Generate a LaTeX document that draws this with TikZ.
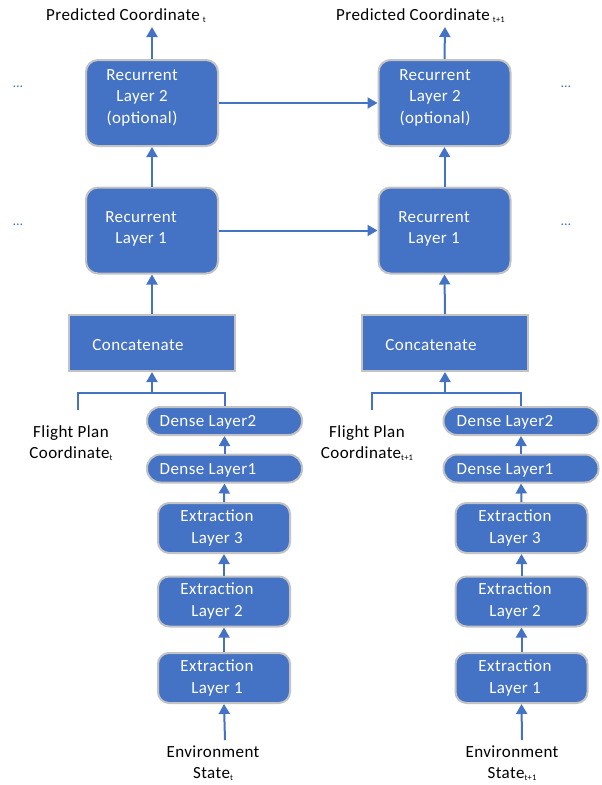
\documentclass[tikz,border=0pt]{standalone}
\usepackage{fontspec}
\setmainfont{Carlito}[LetterSpace=2.5]
\usetikzlibrary{arrows.meta,calc}
\definecolor{obl}{HTML}{4472C4}
\definecolor{bgray}{HTML}{C3C3C3}
\newcommand{\sbx}[1]{\raisebox{-2.5pt}{\fontsize{8.5}{9}\selectfont #1}}
\begin{document}
\begin{tikzpicture}[x=1pt,y=-1pt,
  base/.style={draw=bgray,line width=2pt,fill=obl,inner sep=0pt},
  rbox/.style={base,rounded corners=12pt,minimum width=132pt,minimum height=86pt},
  cbox/.style={base,minimum width=166pt,minimum height=56pt},
  dbox/.style={base,rounded corners=13.5pt,minimum width=155pt,minimum height=28pt},
  ebox/.style={base,rounded corners=11pt,minimum width=132pt,minimum height=50pt},
  wtxt/.style={text=white,align=center,font=\fontsize{17}{21.5}\selectfont,inner sep=0pt},
  btxt/.style={text=black,align=center,font=\fontsize{17}{21}\selectfont,inner sep=0pt},
  dotsn/.style={text=obl,font=\fontsize{14}{14}\selectfont,inner sep=0pt},
  ln/.style={draw=obl,line width=2pt},
  arr/.style={ln,-{Triangle[length=10pt,width=11pt]}}]
\useasboundingbox (0,0) rectangle (602,785);

% ---------- left column ----------
\node[rbox] (r2L) at (152,103) {};
\node[wtxt] (r2Lt) at (142,97.5) {Recurrent\\Layer 2\\(optional)};
\node[rbox] (r1L) at (152,230.5) {};
\node[wtxt] (r1Lt) at (141,229) {Recurrent\\Layer 1};
\node[cbox] (cL) at (152,343) {};
\node[wtxt] (cLt) at (138,345) {Concatenate};
\node[dbox] (d2L) at (224.5,421) {};
\node[wtxt] (d2Lt) at (208,422) {Dense Layer2};
\node[dbox] (d1L) at (224.5,468.5) {};
\node[wtxt] (d1Lt) at (208,470) {Dense Layer1};
\node[ebox] (e3L) at (224,528) {};
\node[wtxt] (e3Lt) at (217,528) {Extraction\\Layer 3};
\node[ebox] (e2L) at (224,601.5) {};
\node[wtxt] (e2Lt) at (217,601) {Extraction\\Layer 2};
\node[ebox] (e1L) at (224,678) {};
\node[wtxt] (e1Lt) at (217,678) {Extraction\\Layer 1};

\node[btxt,anchor=base west] (pL) at (46,20) {Predicted Coordinate\hspace{3pt}\sbx{t}};
\node[btxt] (fpL) at (71,443) {Flight Plan\\Coordinate\sbx{t}};
\node[btxt] (envL) at (213,763) {Environment\\State\sbx{t}};
\node[dotsn] (dL2) at (18,87) {\dots};
\node[dotsn] (dL1) at (18,225) {\dots};

\coordinate (pLtip) at (152,27);
\coordinate (jL) at (152,393);
\coordinate (fpLtop) at (78,410);
\coordinate (envLtop) at (225,740);

\draw[arr] (r2L.north) -- (pLtip);
\draw[arr] (r1L.north) -- (r2L.south);
\draw[arr] (cL.north) -- (r1L.south);
\draw[ln] (fpLtop) |- (jL) -| (d2L.north);
\draw[arr] (jL) -- (cL.south);
\draw[arr] (d1L.north) -- (d2L.south);
\draw[arr] (e3L.north) -- (d1L.south);
\draw[arr] (e2L.north) -- (e3L.south);
\draw[arr] (e1L.north) -- (e2L.south);
\draw[arr] (envLtop) -- (e1L.south);

% ---------- right column ----------
\node[rbox] (r2R) at (444.5,103) {};
\node[wtxt] (r2Rt) at (435,97.5) {Recurrent\\Layer 2\\(optional)};
\node[rbox] (r1R) at (444.5,230.5) {};
\node[wtxt] (r1Rt) at (434,229) {Recurrent\\Layer 1};
\node[cbox] (cR) at (445,343) {};
\node[wtxt] (cRt) at (431,345) {Concatenate};
\node[dbox] (d2R) at (521,421) {};
\node[wtxt] (d2Rt) at (505,422) {Dense Layer2};
\node[dbox] (d1R) at (521,468.5) {};
\node[wtxt] (d1Rt) at (505,470) {Dense Layer1};
\node[ebox] (e3R) at (521.5,528) {};
\node[wtxt] (e3Rt) at (515,528) {Extraction\\Layer 3};
\node[ebox] (e2R) at (521.5,601.5) {};
\node[wtxt] (e2Rt) at (515,601) {Extraction\\Layer 2};
\node[ebox] (e1R) at (521.5,678) {};
\node[wtxt] (e1Rt) at (515,678) {Extraction\\Layer 1};

\node[btxt,anchor=base west] (pR) at (336,20) {Predicted Coordinate\hspace{3pt}\sbx{t+1}};
\node[btxt] (fpR) at (367,443) {Flight Plan\\Coordinate\sbx{t+1}};
\node[btxt] (envR) at (512,763) {Environment\\State\sbx{t+1}};
\node[dotsn] (dR2) at (566,87) {\dots};
\node[dotsn] (dR1) at (566,225) {\dots};

\coordinate (pRtip) at (445,27);
\coordinate (jR) at (445,393);
\coordinate (fpRtop) at (372,410);
\coordinate (envRtop) at (522,740);

\draw[arr] (r2R.north) -- (pRtip);
\draw[arr] (r1R.north) -- (r2R.south);
\draw[arr] (cR.north) -- (r1R.south);
\draw[ln] (fpRtop) |- (jR) -| (d2R.north);
\draw[arr] (jR) -- (cR.south);
\draw[arr] (d1R.north) -- (d2R.south);
\draw[arr] (e3R.north) -- (d1R.south);
\draw[arr] (e2R.north) -- (e3R.south);
\draw[arr] (e1R.north) -- (e2R.south);
\draw[arr] (envRtop) -- (e1R.south);

% ---------- recurrent connections ----------
\draw[arr] (r2L.east) -- (r2R.west);
\draw[arr] (r1L.east) -- (r1R.west);
\end{tikzpicture}
\end{document}
